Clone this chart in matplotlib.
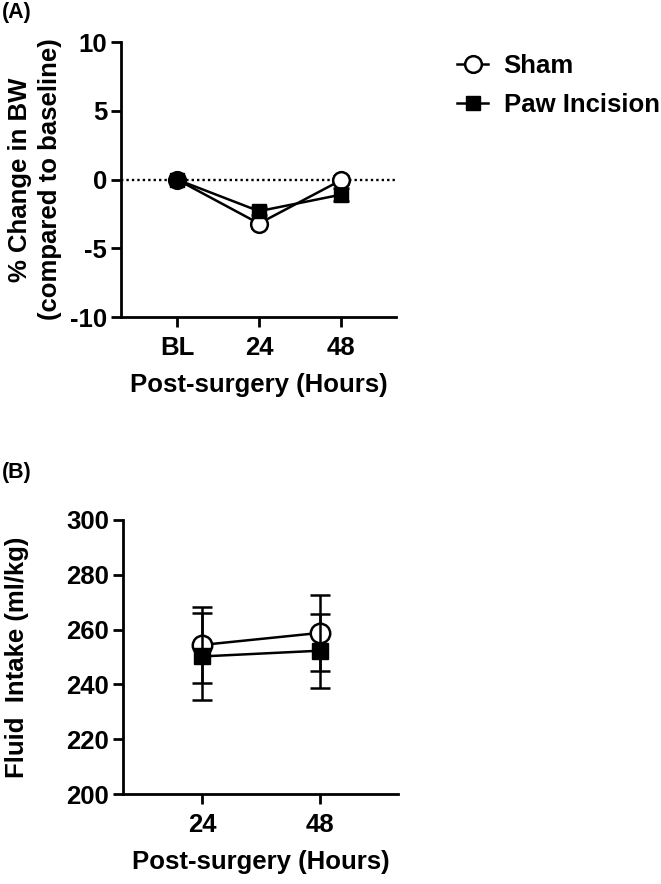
import matplotlib
matplotlib.use('Agg')
import matplotlib.pyplot as plt
from matplotlib.lines import Line2D
import numpy as np

plt.rcParams['font.family'] = ['Liberation Sans', 'DejaVu Sans']
plt.rcParams['font.weight'] = 'bold'
plt.rcParams['axes.labelweight'] = 'bold'
plt.rcParams['axes.unicode_minus'] = False

# panel A: % change in body weight
bw_labels = ['BL', '24', '48']
sham_bw = [0.0, -3.2, -0.05]
sham_bw_err = [0.2, 0.3, 0.3]
paw_bw = [0.0, -2.3, -1.1]
paw_bw_err = [0.2, 0.3, 0.45]

# panel B: fluid intake
fi_labels = ['24', '48']
sham_fi = [254.4, 258.8]
sham_fi_err = [14.0, 14.0]
paw_fi = [250.2, 252.3]
paw_fi_err = [16.0, 13.5]

fs = 18.5
lw_axis = 2.0

fig = plt.figure(figsize=(6.61, 8.84), dpi=100)

def style_axes(ax):
    for s in ['top', 'right']:
        ax.spines[s].set_visible(False)
    for s in ['left', 'bottom']:
        ax.spines[s].set_linewidth(lw_axis)
    ax.tick_params(axis='both', width=lw_axis, labelsize=fs)
    ax.tick_params(axis='y', length=7, pad=3)
    ax.tick_params(axis='x', length=7, pad=7)
    for t in ax.get_xticklabels() + ax.get_yticklabels():
        t.set_fontweight('bold')

# ---- panel A ----
axA = fig.add_axes([0.183, 0.6414, 0.416, 0.311])
x = np.arange(len(bw_labels))
axA.axhline(0, color='black', linestyle=(0, (1, 1.3)), linewidth=1.7, zorder=1)
axA.errorbar(x, sham_bw, yerr=sham_bw_err, color='black', linewidth=1.8,
             marker='o', markersize=12, markerfacecolor='white',
             markeredgecolor='black', markeredgewidth=1.8,
             capsize=6, capthick=1.8, elinewidth=1.8, zorder=3)
axA.errorbar(x, paw_bw, yerr=paw_bw_err, color='black', linewidth=1.8,
             marker='s', markersize=10, markerfacecolor='black',
             markeredgecolor='black', capsize=6, capthick=1.8,
             elinewidth=1.8, zorder=4)
axA.set_xlim(-0.683, 2.67)
axA.set_ylim(-10, 10)
axA.set_yticks([-10, -5, 0, 5, 10])
axA.set_xticks(x)
axA.set_xticklabels(bw_labels)
axA.set_xlabel('Post-surgery (Hours)', fontsize=fs, fontweight='bold', labelpad=9)
axA.set_ylabel('% Change in BW\n(compared to baseline)', fontsize=fs,
               fontweight='bold', labelpad=6, linespacing=1.3)
style_axes(axA)

# ---- panel B ----
axB = fig.add_axes([0.186, 0.1018, 0.416, 0.31])
xb = np.arange(len(fi_labels))
axB.errorbar(xb, sham_fi, yerr=sham_fi_err, color='black', linewidth=1.8,
             marker='o', markersize=14, markerfacecolor='white',
             markeredgecolor='black', markeredgewidth=1.8,
             capsize=7, capthick=1.8, elinewidth=1.8, zorder=3)
axB.errorbar(xb, paw_fi, yerr=paw_fi_err, color='black', linewidth=1.8,
             marker='s', markersize=12, markerfacecolor='black',
             markeredgecolor='black', capsize=7, capthick=1.8,
             elinewidth=1.8, zorder=4)
axB.set_xlim(-0.67, 1.66)
axB.set_ylim(200, 300)
axB.set_yticks([200, 220, 240, 260, 280, 300])
axB.set_xticks(xb)
axB.set_xticklabels(fi_labels)
axB.set_xlabel('Post-surgery (Hours)', fontsize=fs, fontweight='bold', labelpad=9)
axB.set_ylabel('Fluid  Intake (ml/kg)', fontsize=fs, fontweight='bold', labelpad=27)
style_axes(axB)

# legend
leg_handles = [
    Line2D([], [], color='black', linewidth=1.8, marker='o', markersize=12,
           markerfacecolor='white', markeredgecolor='black', markeredgewidth=1.8),
    Line2D([], [], color='black', linewidth=1.8, marker='s', markersize=10,
           markerfacecolor='black', markeredgecolor='black'),
]
fig.legend(leg_handles, ['Sham', 'Paw Incision'], loc='upper left',
           bbox_to_anchor=(0.657, 0.965), frameon=False,
           handlelength=1.2, handletextpad=0.6, labelspacing=0.6,
           prop={'weight': 'bold', 'size': fs})

fig.text(0.003, 0.986, '(A)', fontsize=15.5, fontweight='bold', va='center', ha='left')
fig.text(0.003, 0.466, '(B)', fontsize=15.5, fontweight='bold', va='center', ha='left')

fig.savefig('out.png', dpi=100)
